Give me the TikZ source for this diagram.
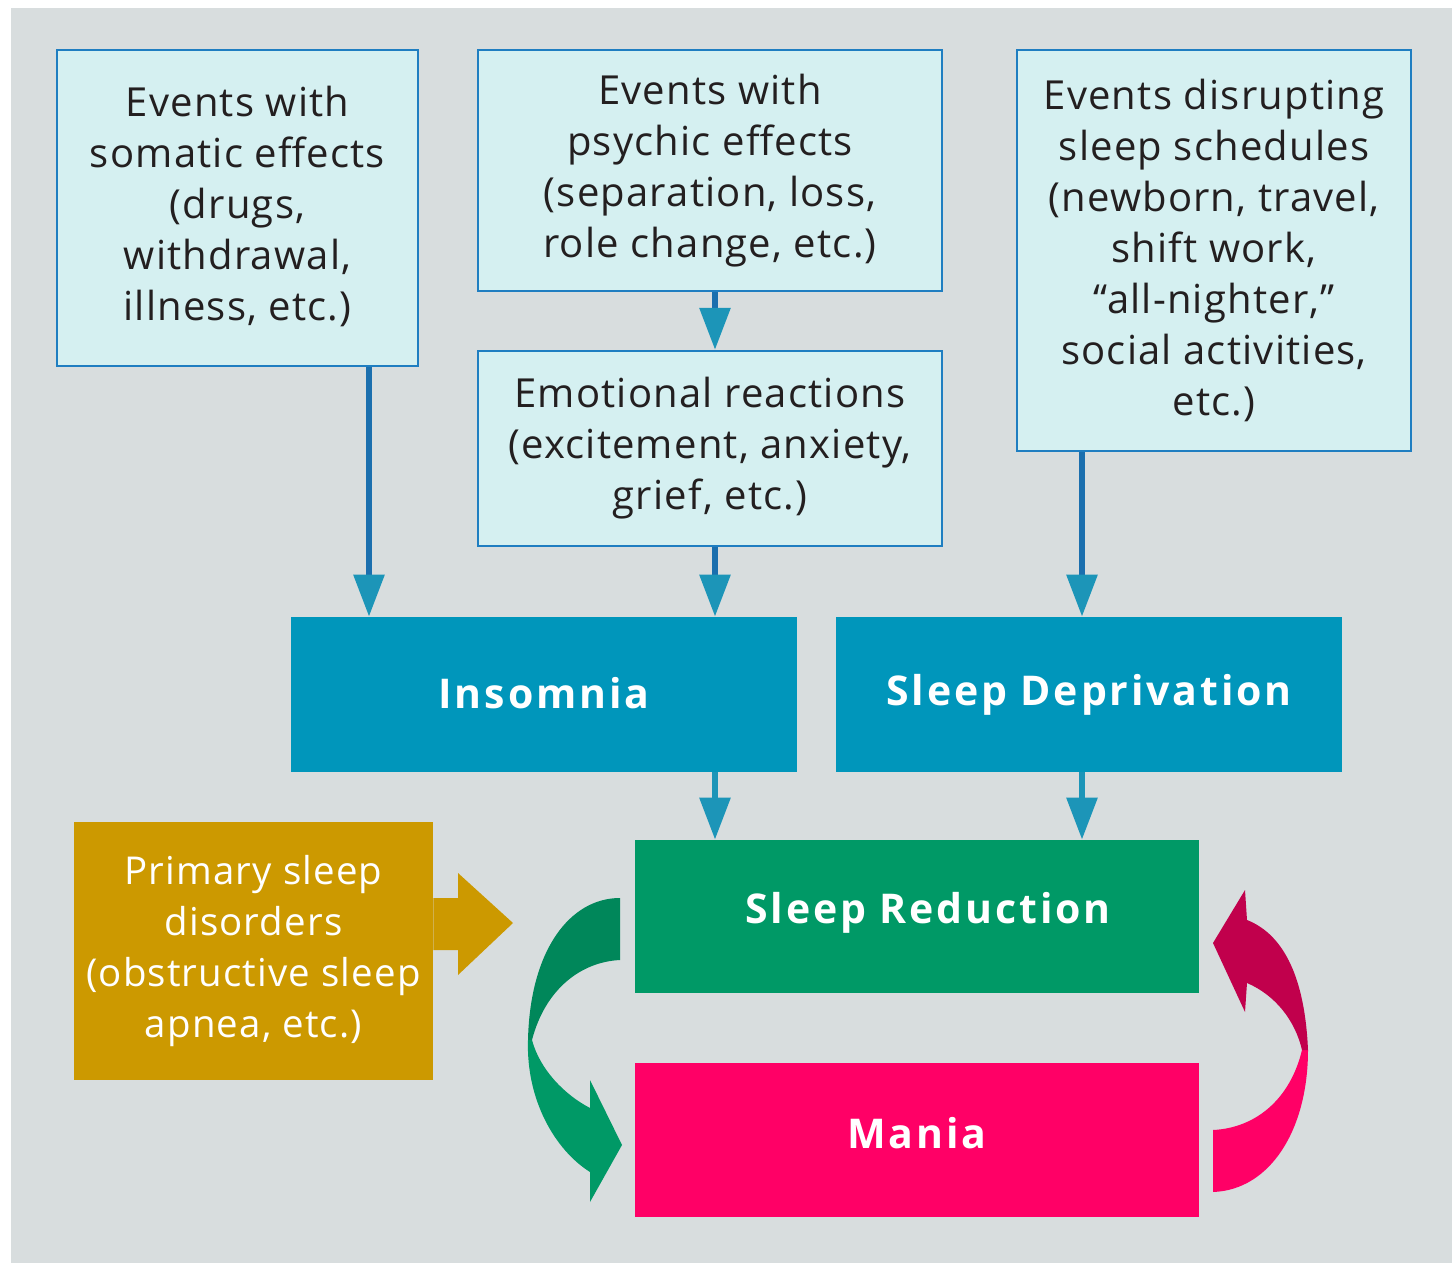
\documentclass[tikz,border=0pt]{standalone}
\usepackage{fontspec}
\setmainfont{Open Sans}[LetterSpace=3]
\newfontfamily\labelfont{Open Sans}[LetterSpace=7]
\usetikzlibrary{arrows.meta}
\definecolor{bg}{HTML}{D8DDDE}
\definecolor{lightfill}{HTML}{D5F0F1}
\definecolor{boxborder}{HTML}{1F7EC1}
\definecolor{shaft}{HTML}{1B6FAE}
\definecolor{headc}{HTML}{1C95B8}
\definecolor{insc}{HTML}{0096BB}
\definecolor{src}{HTML}{009966}
\definecolor{maniac}{HTML}{FF0066}
\definecolor{goldc}{HTML}{CC9900}
\definecolor{darkgreen}{HTML}{00875A}
\definecolor{darkmag}{HTML}{C1004C}
\definecolor{txt}{HTML}{231F20}
\begin{document}
\begin{tikzpicture}[x=0.5pt,y=-0.5pt,
  lbox/.style={draw=boxborder, line width=1.2pt, fill=lightfill, text=txt, align=center, inner sep=0pt,
    font=\fontsize{20}{25.5}\selectfont},
  cbox/.style={draw=none, inner sep=0pt, text=white, align=center,
    font=\labelfont\fontsize{20.5}{25}\selectfont\bfseries},
  conn/.style={draw=shaft, line width=3pt, -{Triangle[length=21pt,width=15pt,color=headc]}},
  connb/.style={draw=headc, line width=3pt, -{Triangle[length=21pt,width=15pt,color=headc]}}]
\useasboundingbox (0,0) rectangle (1452,1263);
\fill[white] (0,0) rectangle (1452,1263);
\fill[bg] (11,8) rectangle (1452,1263);

\node[lbox, minimum width={361*0.5pt}, minimum height={316*0.5pt}] (b1) at (237.5,208)
  {\raisebox{2pt}{\begin{tabular}{@{}c@{}}Events with\\somatic effects\\(drugs,\\withdrawal,\\illness, etc.)\end{tabular}}};
\node[lbox, minimum width={464*0.5pt}, minimum height={241*0.5pt}] (b2) at (710,170.5)
  {Events with\\psychic effects\\(separation, loss,\\role change, etc.)};
\node[lbox, minimum width={464*0.5pt}, minimum height={195*0.5pt}] (b3) at (710,448.5)
  {Emotional reactions\\(excitement, anxiety,\\grief, etc.)};
\node[lbox, minimum width={394*0.5pt}, minimum height={401*0.5pt}] (b4) at (1214,250.5)
  {Events disrupting\\sleep schedules\\(newborn, travel,\\shift work,\\“all-nighter,”\\social activities,\\etc.)};

\node[cbox, fill=insc, minimum width={506*0.5pt}, minimum height={155*0.5pt}] (ins) at (544,694.5)
  {\raisebox{2pt}{Insomnia}};
\node[cbox, fill=insc, minimum width={506*0.5pt}, minimum height={155*0.5pt}] (sd) at (1089,694.5) {Sleep Deprivation};
\node[cbox, fill=src, minimum width={564*0.5pt}, minimum height={153*0.5pt}] (sr) at (917,916.5)
  {\raisebox{8.5pt}{\hspace*{11pt}Sleep Reduction}};
\node[cbox, fill=maniac, minimum width={564*0.5pt}, minimum height={154*0.5pt}] (mania) at (917,1140)
  {\raisebox{7pt}{Mania}};
\node[cbox, fill=goldc, minimum width={359*0.5pt}, minimum height={258*0.5pt},
  font=\fontsize{19.2}{25.5}\selectfont] (prim) at (253.5,951)
  {\raisebox{7pt}{\begin{tabular}{@{}c@{}}Primary sleep\\disorders\\(obstructive sleep\\apnea, etc.)\end{tabular}}};

\coordinate (xa) at (369,0);
\coordinate (xb) at (715,0);
\coordinate (xc) at (1082,0);
\draw[conn] (xa |- b1.south) -- (xa |- ins.north);
\draw[conn] (xb |- b2.south) -- (xb |- b3.north);
\draw[conn] (xb |- b3.south) -- (xb |- ins.north);
\draw[conn] (xc |- b4.south) -- (xc |- sd.north);
\draw[connb] (xb |- ins.south) -- (xb |- sr.north);
\draw[connb] (xc |- sd.south) -- (xc |- sr.north);

% gold block arrow
\fill[goldc] (prim.east |- 0,898) -- (458,898) -- (458,873) -- (513,923) -- (458,975) -- (458,950) -- (prim.east |- 0,950) -- cycle;

% green curved arrow (sleep reduction -> mania)
\fill[darkgreen] (620,898) .. controls (570,898) and (530,950) .. (528,1040) -- (532,1040)
  .. controls (545,990) and (580,962) .. (620,960) -- cycle;
\fill[src] (528,1040) .. controls (526,1100) and (555,1150) .. (590,1172) -- (590,1202) -- (622,1145)
  -- (590,1080) -- (590,1108) .. controls (565,1095) and (540,1070) .. (532,1040) -- cycle;

% magenta curved arrow (mania -> sleep reduction)
\fill[maniac] (1213,1130) -- (1213,1192) .. controls (1270,1190) and (1308,1130) .. (1308,1050)
  -- (1302,1050) .. controls (1290,1100) and (1255,1128) .. (1213,1130) -- cycle;
\fill[darkmag] (1308,1050) .. controls (1305,980) and (1285,935) .. (1247,920) -- (1245,890)
  -- (1213,943) -- (1245,1012) -- (1247,983) .. controls (1275,995) and (1295,1020) .. (1302,1050) -- cycle;
\end{tikzpicture}
\end{document}
